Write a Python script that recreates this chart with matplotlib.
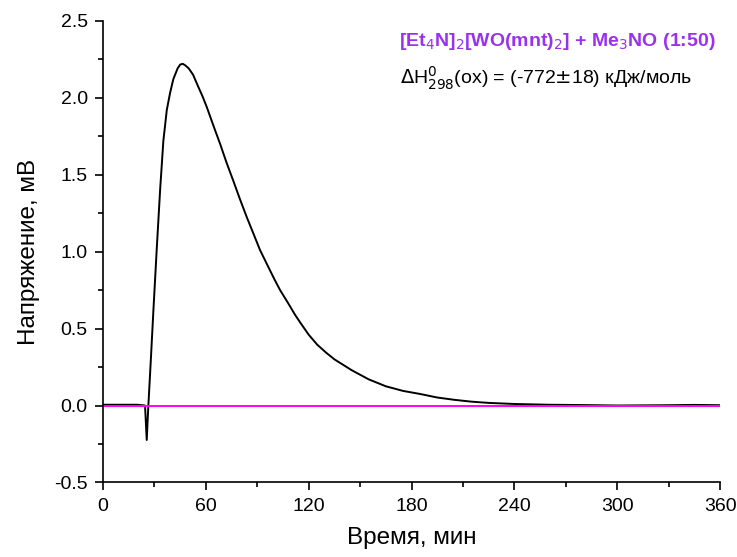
import matplotlib.pyplot as plt
from matplotlib.ticker import MultipleLocator

plt.rcParams['font.family'] = ['Liberation Sans', 'DejaVu Sans']

# время, мин и напряжение, мВ
t = [0, 10, 20, 24.5, 25.5, 26.4, 28.0, 29.3, 31.3, 33.3, 35.2, 37.2, 39.1,
     41.0, 43.5, 45.0, 46.5, 48.0, 50.0, 52.5, 55.6, 58.0, 60.5, 65.0, 68.3,
     72.0, 76.0, 79.9, 84.0, 88.0, 91.6, 96.0, 100.0, 103.3, 108.0, 112.0,
     115.0, 120.0, 125.0, 130.0, 135.0, 140.0, 145.0, 155.0, 165.0, 175.0,
     185.0, 195.0, 205.0, 215.0, 225.0, 240.0, 260.0, 280.0, 300.0, 330.0,
     345.0, 360.0]
u = [0.005, 0.005, 0.005, 0.0, -0.224, -0.01, 0.32, 0.60, 1.01, 1.40, 1.72,
     1.92, 2.03, 2.12, 2.19, 2.215, 2.22, 2.21, 2.19, 2.15, 2.07, 2.01, 1.94,
     1.80, 1.70, 1.58, 1.46, 1.34, 1.22, 1.11, 1.01, 0.91, 0.82, 0.75, 0.665,
     0.59, 0.54, 0.46, 0.395, 0.345, 0.30, 0.265, 0.23, 0.17, 0.125, 0.095,
     0.075, 0.052, 0.037, 0.025, 0.017, 0.010, 0.005, 0.003, 0.0, 0.002,
     0.004, 0.002]
t_base = [0, 360]
u_base = [0, 0]

fig = plt.figure(figsize=(7.37, 5.57), dpi=100)
ax = fig.add_axes([0.1398, 0.1338, 0.8372, 0.829])

ax.plot(t, u, color='black', lw=1.4)
ax.plot(t_base, u_base, color='#ff00ff', lw=1.4)

ax.set_xlim(0, 360)
ax.set_ylim(-0.5, 2.5)
ax.xaxis.set_major_locator(MultipleLocator(60))
ax.xaxis.set_minor_locator(MultipleLocator(30))
ax.yaxis.set_major_locator(MultipleLocator(0.5))
ax.yaxis.set_minor_locator(MultipleLocator(0.25))
ax.yaxis.set_major_formatter(plt.FormatStrFormatter('%.1f'))

for s in ['top', 'right']:
    ax.spines[s].set_visible(False)
for s in ['left', 'bottom']:
    ax.spines[s].set_linewidth(1.2)

ax.tick_params(which='major', direction='out', length=6, width=1.2,
               labelsize=14, pad=5)
ax.tick_params(which='minor', direction='out', length=3.5, width=1.2)

ax.set_xlabel('Время, мин', fontsize=17.5, labelpad=9)
ax.set_ylabel('Напряжение, мВ', fontsize=17.5, labelpad=10)

ax.text(0.993, 0.978,
        r'[Et$_4$N]$_2$[WO(mnt)$_2$] + Me$_3$NO (1:50)',
        transform=ax.transAxes, ha='right', va='top',
        fontsize=14, fontweight='bold', color='#9b30f0')
ax.text(0.955, 0.905,
        r'$\Delta$H$^0_{298}$(ox) = (-772$\pm$18) кДж/моль',
        transform=ax.transAxes, ha='right', va='top', fontsize=14)

fig.savefig('out.png', dpi=100)
